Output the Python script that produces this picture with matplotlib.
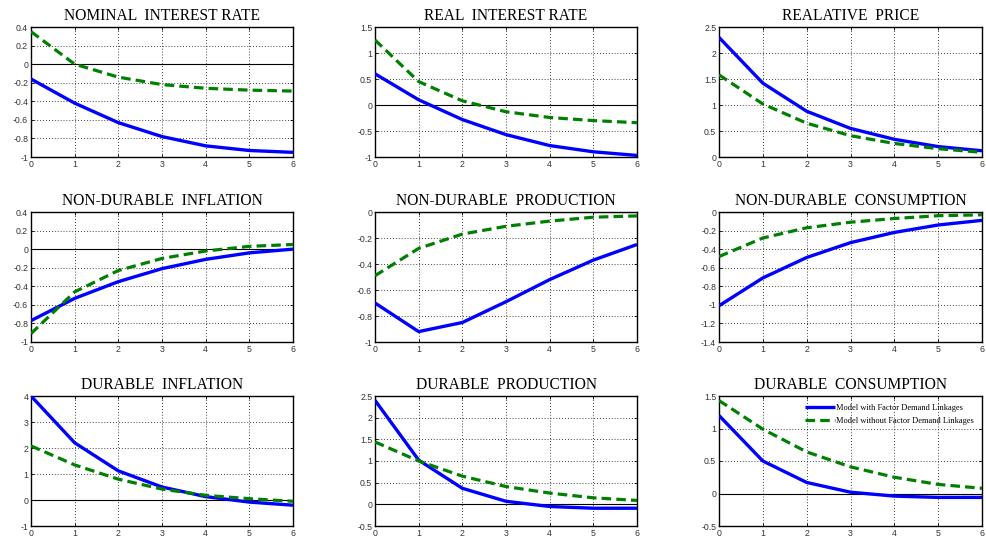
import matplotlib
matplotlib.use("Agg")
import matplotlib.pyplot as plt
import numpy as np

periods = [0, 1, 2, 3, 4, 5, 6]

titles = ["NOMINAL  INTEREST RATE", "REAL  INTEREST RATE", "REALATIVE  PRICE",
          "NON-DURABLE  INFLATION", "NON-DURABLE  PRODUCTION", "NON-DURABLE  CONSUMPTION",
          "DURABLE  INFLATION", "DURABLE  PRODUCTION", "DURABLE  CONSUMPTION"]

with_fdl = [
    [-0.16, -0.42, -0.63, -0.78, -0.88, -0.93, -0.95],
    [0.60, 0.10, -0.28, -0.57, -0.78, -0.90, -0.97],
    [2.30, 1.42, 0.88, 0.55, 0.34, 0.20, 0.12],
    [-0.77, -0.53, -0.35, -0.21, -0.11, -0.04, 0.00],
    [-0.70, -0.92, -0.85, -0.69, -0.52, -0.37, -0.25],
    [-1.01, -0.71, -0.49, -0.33, -0.22, -0.14, -0.09],
    [4.00, 2.20, 1.12, 0.50, 0.13, -0.08, -0.20],
    [2.40, 1.02, 0.37, 0.07, -0.05, -0.09, -0.09],
    [1.20, 0.50, 0.17, 0.02, -0.04, -0.06, -0.06],
]

without_fdl = [
    [0.35, 0.00, -0.14, -0.22, -0.26, -0.28, -0.29],
    [1.25, 0.45, 0.08, -0.13, -0.24, -0.30, -0.34],
    [1.58, 1.02, 0.65, 0.41, 0.26, 0.16, 0.09],
    [-0.91, -0.46, -0.23, -0.10, -0.02, 0.03, 0.05],
    [-0.49, -0.28, -0.17, -0.11, -0.07, -0.04, -0.03],
    [-0.48, -0.28, -0.17, -0.11, -0.07, -0.04, -0.03],
    [2.08, 1.35, 0.80, 0.42, 0.18, 0.05, -0.05],
    [1.44, 1.00, 0.65, 0.41, 0.26, 0.15, 0.09],
    [1.43, 0.99, 0.64, 0.41, 0.25, 0.14, 0.08],
]

y_ticks = [
    [-1, -0.8, -0.6, -0.4, -0.2, 0, 0.2, 0.4],
    [-1, -0.5, 0, 0.5, 1, 1.5],
    [0, 0.5, 1, 1.5, 2, 2.5],
    [-1, -0.8, -0.6, -0.4, -0.2, 0, 0.2, 0.4],
    [-1, -0.8, -0.6, -0.4, -0.2, 0],
    [-1.4, -1.2, -1, -0.8, -0.6, -0.4, -0.2, 0],
    [-1, 0, 1, 2, 3, 4],
    [-0.5, 0, 0.5, 1, 1.5, 2, 2.5],
    [-0.5, 0, 0.5, 1, 1.5],
]

legend_labels = ["Model with Factor Demand Linkages", "Model without Factor Demand Linkages"]

W, H = 987, 539
fig = plt.figure(figsize=(W / 100, H / 100), dpi=100)

col_x = [(31, 293), (375, 637), (719, 982)]
row_y = [(27, 157), (212, 342), (396, 526)]

def fmt(v):
    if float(v).is_integer():
        return str(int(v))
    return ("%g" % v)

for i in range(9):
    r, c = divmod(i, 3)
    x0, x1 = col_x[c]
    y0, y1 = row_y[r]
    ax = fig.add_axes([x0 / W, 1 - y1 / H, (x1 - x0) / W, (y1 - y0) / H])
    ax.plot(periods, with_fdl[i], color=(0, 0, 1), lw=2.4, solid_capstyle="butt",
            label=legend_labels[0], zorder=3)
    ax.plot(periods, without_fdl[i], color=(0, 0.5, 0), lw=2.3, ls=(0, (3.0, 1.6)),
            label=legend_labels[1], zorder=3)
    ax.axhline(0, color="black", lw=0.8, zorder=2)
    ax.set_xlim(0, 6)
    ax.set_ylim(y_ticks[i][0], y_ticks[i][-1])
    ax.set_xticks(periods)
    ax.set_xticklabels([str(p) for p in periods])
    ax.set_yticks(y_ticks[i])
    ax.set_yticklabels([fmt(v) for v in y_ticks[i]])
    ax.grid(True, color="black", ls=(0, (1, 2.5)), lw=0.6)
    ax.tick_params(direction="in", length=2, width=0.6, labelsize=6.3,
                   labelcolor="#333333", pad=2, top=True, right=True)
    for lab in ax.get_xticklabels() + ax.get_yticklabels():
        lab.set_fontfamily("Liberation Sans")
    for s in ax.spines.values():
        s.set_linewidth(1.0)
        s.set_color("black")
    ax.set_title(titles[i], fontfamily="Liberation Serif", fontsize=11.2, pad=5)
    if i == 8:
        leg = ax.legend(loc="upper right", frameon=False,
                        prop={"family": "Liberation Serif", "size": 6.0},
                        handlelength=3.6, handletextpad=0.1, borderaxespad=0.6,
                        labelspacing=0.6)

fig.savefig("out.png", dpi=100, facecolor="white")
